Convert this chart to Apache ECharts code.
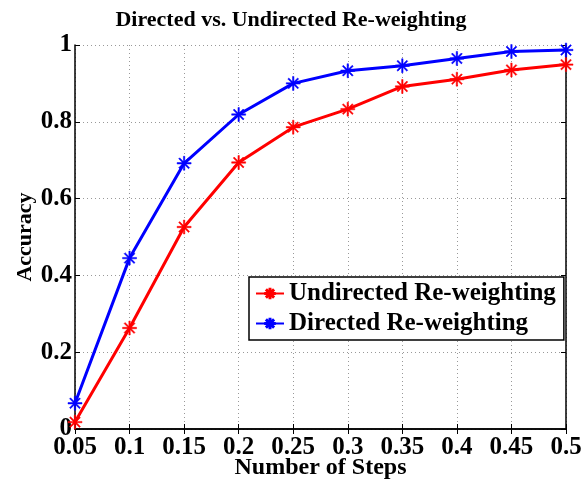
<!DOCTYPE html>
<html><head><meta charset="utf-8">
<script src="https://cdn.jsdelivr.net/npm/echarts@6/dist/echarts.min.js"></script>
<style>html,body{margin:0;padding:0;background:#fff}#c{width:582px;height:485px}</style>
</head><body><div id="c"></div>
<script>
const steps = ['0.05','0.1','0.15','0.2','0.25','0.3','0.35','0.4','0.45','0.5'];
const undirected = [0.018, 0.263, 0.526, 0.694, 0.786, 0.833, 0.892, 0.911, 0.935, 0.949];
const directed = [0.067, 0.445, 0.692, 0.819, 0.900, 0.933, 0.946, 0.965, 0.983, 0.987];
const yTicks = [0, 0.2, 0.4, 0.6, 0.8, 1];

const star = 'path://M-1,-10 L1,-10 L1,10 L-1,10 Z M-10,-1 L10,-1 L10,1 L-10,1 Z M6.36,-7.78 L7.78,-6.36 L-6.36,7.78 L-7.78,6.36 Z M-7.78,-6.36 L-6.36,-7.78 L7.78,6.36 L6.36,7.78 Z';
const F = 'Liberation Serif';
const chart = echarts.init(document.getElementById('c'));
chart.setOption({
  animation: false,
  title: {text: 'Directed vs. Undirected Re-weighting', left: 'center', top: 4,
    textStyle: {fontFamily: F, fontWeight: 'bold', fontSize: 22, color: '#000'}},
  grid: {left: 75, right: 16, top: 45, bottom: 56, containLabel: false, outerBoundsMode: 'none'},
  legend: {
    orient: 'vertical', left: 249, top: 277, width: 314,
    itemWidth: 28, itemHeight: 12, itemGap: 5,
    padding: [4, 8, 4, 6],
    borderColor: '#000', borderWidth: 1.5, backgroundColor: '#fff',
    textStyle: {fontFamily: F, fontWeight: 'bold', fontSize: 25, color: '#000'},
    data: ['Undirected Re-weighting', 'Directed Re-weighting']
  },
  xAxis: [{
    type: 'category', data: steps, boundaryGap: false,
    name: 'Number of Steps', nameLocation: 'middle', nameGap: 27, nameMoveOverlap: false,
    nameTextStyle: {fontFamily: F, fontWeight: 'bold', fontSize: 24, color: '#000'},
    axisLine: {lineStyle: {color: '#000', width: 1.5}},
    axisTick: {inside: true, length: 5, lineStyle: {color: '#000'}},
    axisLabel: {fontFamily: F, fontWeight: 'bold', fontSize: 25, color: '#000', margin: 6, showMinLabel: true, showMaxLabel: true, interval: 0, hideOverlap: false},
    splitLine: {show: true, lineStyle: {color: '#999', type: [1, 3], width: 1}}
  }, {
    type: 'category', data: steps, boundaryGap: false, position: 'top',
    axisLine: {lineStyle: {color: '#000', width: 1.5}},
    axisTick: {inside: true, length: 5, lineStyle: {color: '#000'}},
    axisLabel: {show: false}, splitLine: {show: false}
  }],
  yAxis: [{
    type: 'value', min: 0, max: 1, interval: 0.2,
    name: 'Accuracy', nameLocation: 'middle', nameGap: 39, nameMoveOverlap: false,
    nameTextStyle: {fontFamily: F, fontWeight: 'bold', fontSize: 22, color: '#000'},
    axisLine: {show: true, lineStyle: {color: '#000', width: 1.5}},
    axisTick: {show: true, inside: true, length: 5, lineStyle: {color: '#000'}},
    axisLabel: {fontFamily: F, fontWeight: 'bold', fontSize: 25, color: '#000', margin: 3,
      formatter: v => { const t = yTicks.find(x => Math.abs(x - v) < 1e-9); return t === undefined ? '' : String(t); }},
    splitLine: {show: true, lineStyle: {color: '#999', type: [1, 3], width: 1}}
  }, {
    type: 'value', min: 0, max: 1, interval: 0.2, position: 'right',
    axisLine: {show: true, lineStyle: {color: '#000', width: 1.5}},
    axisTick: {show: true, inside: true, length: 5, lineStyle: {color: '#000'}},
    axisLabel: {show: false}, splitLine: {show: false}
  }],
  series: [{
    name: 'Undirected Re-weighting', type: 'line', data: undirected,
    symbol: star, symbolSize: 14, showAllSymbol: true,
    lineStyle: {color: '#ff0000', width: 3},
    itemStyle: {color: '#ff0000', borderColor: '#ff0000', borderWidth: 0.5},
    z: 3
  }, {
    name: 'Directed Re-weighting', type: 'line', data: directed,
    symbol: star, symbolSize: 14, showAllSymbol: true,
    lineStyle: {color: '#0000ff', width: 3},
    itemStyle: {color: '#0000ff', borderColor: '#0000ff', borderWidth: 0.5},
    z: 3
  }]
});
</script></body></html>
